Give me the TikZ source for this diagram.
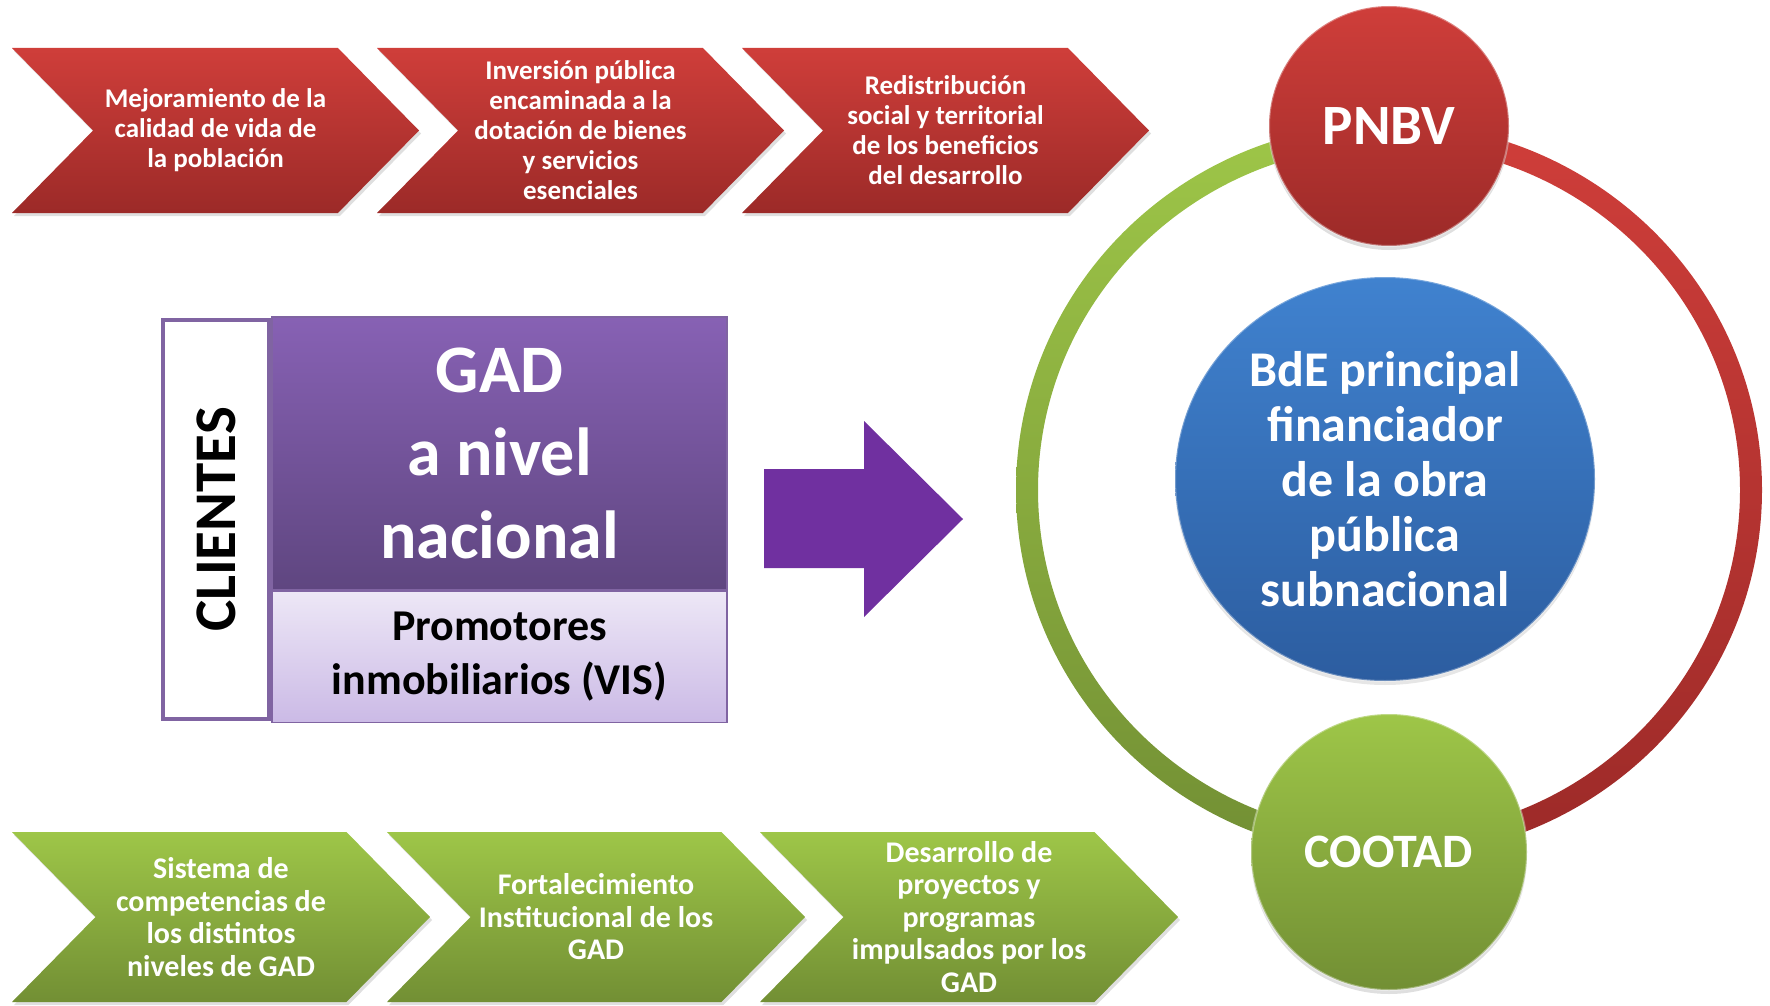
\documentclass[tikz,border=0pt]{standalone}
\usepackage{fontspec}
\setmainfont{Carlito}
\usepackage{tikz}
\usetikzlibrary{shapes.geometric, shapes.symbols, shadows, positioning}

\definecolor{redtop}{RGB}{207,62,58}
\definecolor{redbot}{RGB}{156,42,40}
\definecolor{greentop}{RGB}{158,198,72}
\definecolor{greenbot}{RGB}{114,143,52}
\definecolor{gadtop}{RGB}{135,97,180}
\definecolor{gadbot}{RGB}{95,70,128}
\definecolor{promotop}{RGB}{237,231,246}
\definecolor{promobot}{RGB}{203,186,230}
\definecolor{gadline}{RGB}{128,100,162}
\definecolor{arrowpurple}{RGB}{112,48,160}
\definecolor{bluetop}{RGB}{64,130,207}
\definecolor{bluebot}{RGB}{44,93,160}

\begin{document}
\begin{tikzpicture}[x=1pt,y=1pt,
        chev/.style={signal, signal from=west, signal to=east, signal pointer angle=91,
          inner sep=0pt, align=center, text=white,
          drop shadow={opacity=0.25, shadow xshift=2pt, shadow yshift=-3pt}},
        chevred/.style={chev, top color=redtop, bottom color=redbot,
          minimum width=407pt, minimum height=165pt,
          font=\fontsize{27}{30}\selectfont\bfseries},
        chevgreen/.style={chev, top color=greentop, bottom color=greenbot,
          minimum width=418pt, minimum height=170pt,
          font=\fontsize{30}{32.5}\selectfont\bfseries},
        bubble/.style={circle, inner sep=0pt, text=white, draw=white, draw opacity=0.35,
          line width=2pt, drop shadow={opacity=0.25, shadow xshift=0pt, shadow yshift=-4pt}},
        gadbox/.style={rectangle, inner sep=0pt, align=center, text=white,
          top color=gadtop, bottom color=gadbot, draw=gadline, line width=1.5pt,
          font=\fontsize{68}{83}\selectfont\bfseries},
        promobox/.style={rectangle, inner sep=0pt, align=center, text=black,
          top color=promotop, bottom color=promobot, draw=gadline, line width=1.5pt,
          font=\fontsize{44}{54}\selectfont\bfseries},
        clientbox/.style={rectangle, inner sep=0pt, fill=white, draw=gadline, line width=4pt,
          font=\fontsize{59}{62}\selectfont\bfseries}]

    \useasboundingbox (0,0) rectangle (1770,-1006);

    % red chevrons
    \node[chevred] (mejora) at (215.5,-130.5) {Mejoramiento de la\\calidad de vida de\\la población};
    \node[chevred] (inversion) at (580.5,-130.5) {Inversión pública\\encaminada a la\\dotación de bienes\\y servicios\\esenciales};
    \node[chevred] (redistrib) at (945.5,-130.5) {Redistribución\\social y territorial\\de los beneficios\\del desarrollo};

    % green chevrons
    \node[chevgreen] (sistema) at (221,-917) {Sistema de\\competencias de\\los distintos\\niveles de GAD};
    \node[chevgreen] (fortalec) at (596,-917) {Fortalecimiento\\Institucional de los\\GAD};
    \node[chevgreen] (desarrollo) at (969,-917) {Desarrollo de\\proyectos y\\programas\\impulsados por los\\GAD};

    % clients block
    \node[gadbox, minimum width=455pt, minimum height=273pt] (gad) at (499.5,-453.5) {GAD\\a nivel\\nacional};
    \node[promobox, minimum width=455pt, minimum height=131pt, below=0pt of gad] (promo) {Promotores\\inmobiliarios (VIS)};
    \node[clientbox, rotate=90, minimum width=399pt, minimum height=106pt] (clientes) at (216,-519.5) {CLIENTES};

    % big arrow
    \fill[arrowpurple] (764,-469) -- (864,-469) -- (864,-421) -- (963,-519)
        -- (864,-617) -- (864,-568) -- (764,-568) -- cycle;

    % ring
    \shade[top color=greentop, bottom color=greenbot]
        (1389,-123) arc[start angle=90, end angle=270, x radius=373, y radius=367]
        -- (1389,-835) arc[start angle=270, end angle=90, x radius=351, y radius=345] -- cycle;
    \shade[top color=redtop, bottom color=redbot]
        (1389,-123) arc[start angle=90, end angle=-90, x radius=373, y radius=367]
        -- (1389,-835) arc[start angle=-90, end angle=90, x radius=351, y radius=345] -- cycle;

    \node[ellipse, inner sep=0pt, minimum width=420pt, minimum height=404pt, align=center,
          top color=bluetop, bottom color=bluebot, draw=white, draw opacity=0.3, line width=2pt,
          text=white, font=\fontsize{50}{55}\selectfont\bfseries,
          drop shadow={opacity=0.2, shadow xshift=0pt, shadow yshift=-4pt}]
        (bde) at (1385,-479) {BdE principal\\financiador\\de la obra\\pública\\subnacional};

    \node[bubble, minimum size=240pt, top color=redtop, bottom color=redbot,
          font=\fontsize{57}{60}\selectfont\bfseries] (pnbv) at (1389,-126) {PNBV};
    \node[bubble, minimum size=276pt, top color=greentop, bottom color=greenbot,
          font=\fontsize{48}{52}\selectfont\bfseries] (cootad) at (1389,-852) {COOTAD};
\end{tikzpicture}
\end{document}
